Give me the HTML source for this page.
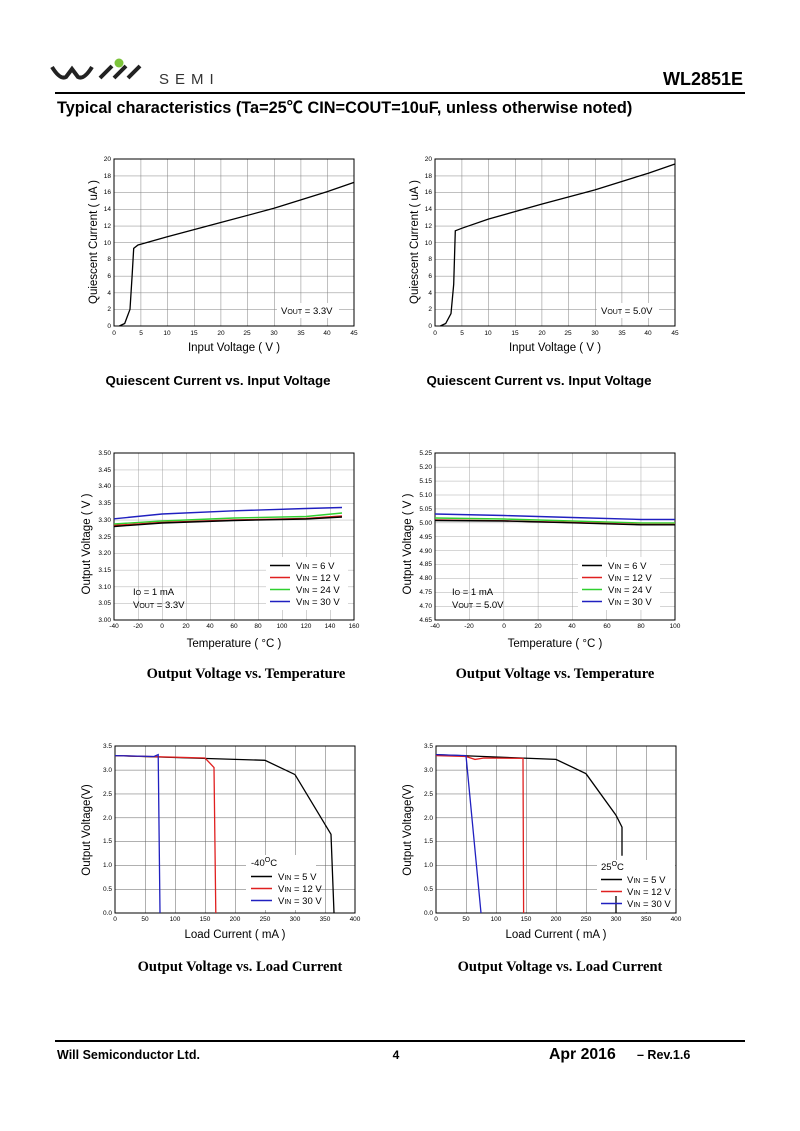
<!DOCTYPE html>
<html><head><meta charset="utf-8"><style>
body{margin:0;background:#fff}
svg{display:block;font-family:"Liberation Sans","Noto Sans CJK SC",sans-serif}
.t{font-size:6.5px}
.l{font-size:9.5px}
.ax{font-size:11.5px}
.yt{text-anchor:end}
.xt{text-anchor:middle}
.ti{font-size:13.3px;font-weight:bold;text-anchor:middle}
.tis{font-family:"Liberation Serif",serif;font-size:14.5px}
.s{font-size:6.5px}
</style></head><body>
<svg width="800" height="1131" viewBox="0 0 800 1131" xmlns="http://www.w3.org/2000/svg">
<defs>
<pattern id="pA" x="114" y="159" width="26.667" height="16.7" patternUnits="userSpaceOnUse"><path d="M0 0H26.667M0 0V16.7" stroke="#808080" stroke-width="1" fill="none"/></pattern>
<pattern id="pB" x="435" y="159" width="26.667" height="16.7" patternUnits="userSpaceOnUse"><path d="M0 0H26.667M0 0V16.7" stroke="#808080" stroke-width="1" fill="none"/></pattern>
<pattern id="pC" x="114" y="453" width="24" height="16.7" patternUnits="userSpaceOnUse"><path d="M0 0H24M0 0V16.7" stroke="#909090" stroke-width="0.8" fill="none"/></pattern>
<pattern id="pD" x="435" y="453" width="34.286" height="13.917" patternUnits="userSpaceOnUse"><path d="M0 0H34.286M0 0V13.917" stroke="#909090" stroke-width="0.8" fill="none"/></pattern>
<pattern id="pE" x="115" y="746" width="30" height="23.857" patternUnits="userSpaceOnUse"><path d="M0 0H30M0 0V23.857" stroke="#606060" stroke-width="1" fill="none"/></pattern>
<pattern id="pF" x="436" y="746" width="30" height="23.857" patternUnits="userSpaceOnUse"><path d="M0 0H30M0 0V23.857" stroke="#606060" stroke-width="1" fill="none"/></pattern>
</defs>

<!-- header -->
<path d="M52 67 Q60 80 66 77 L72 69 L78 77 Q84 80 92 67" stroke="#222" stroke-width="4" fill="none"/>
<path d="M100 78 L112 66 M114 78 L126 66 M128 78 L140 66" stroke="#222" stroke-width="4" fill="none"/>
<circle cx="119" cy="63" r="4.5" fill="#7dc43b"/>
<text x="159" y="84" style="font-size:15px;letter-spacing:6px" fill="#333">SEMI</text>
<text x="743" y="85" text-anchor="end" style="font-size:18px;font-weight:bold">WL2851E</text>
<rect x="55" y="92" width="690" height="2" fill="#000"/>
<text x="57" y="113" style="font-size:16.3px;font-weight:bold">Typical characteristics (Ta=25℃ CIN=COUT=10uF, unless otherwise noted)</text>

<!-- Chart A -->
<rect x="114" y="159" width="240" height="167" fill="url(#pA)"/>
<rect x="114" y="159" width="240" height="167" fill="none" stroke="#000" stroke-width="1"/>
<g class="t yt"><text x="111" y="328">0</text><text x="111" y="311">2</text><text x="111" y="295">4</text><text x="111" y="278">6</text><text x="111" y="261">8</text><text x="111" y="245">10</text><text x="111" y="228">12</text><text x="111" y="211">14</text><text x="111" y="194">16</text><text x="111" y="178">18</text><text x="111" y="161">20</text></g>
<g class="t xt"><text x="114" y="335">0</text><text x="141" y="335">5</text><text x="167" y="335">10</text><text x="194" y="335">15</text><text x="221" y="335">20</text><text x="247" y="335">25</text><text x="274" y="335">30</text><text x="301" y="335">35</text><text x="327" y="335">40</text><text x="354" y="335">45</text></g>
<polyline transform="translate(114,159)" points="5.3,167 10.7,164.5 16,150.3 18.1,116.9 19.7,89.3 24,86 26.7,85.2 53.3,77.7 106.7,63.5 160,49.3 213.3,32.6 240,23.4" fill="none" stroke="#000" stroke-width="1.3"/>
<rect x="277" y="303" width="62" height="15" fill="#fff"/>
<text x="281" y="314" class="l">V<tspan style="font-size:7px">OUT</tspan> = 3.3V</text>
<text x="234" y="351" class="ax xt">Input Voltage ( V )</text>
<text transform="translate(97,242) rotate(-90)" class="ax xt">Quiescent Current ( uA )</text>
<text x="218" y="385" class="ti">Quiescent Current vs. Input Voltage</text>

<!-- Chart B -->
<rect x="435" y="159" width="240" height="167" fill="url(#pB)"/>
<rect x="435" y="159" width="240" height="167" fill="none" stroke="#000" stroke-width="1"/>
<g class="t yt"><text x="432" y="328">0</text><text x="432" y="311">2</text><text x="432" y="295">4</text><text x="432" y="278">6</text><text x="432" y="261">8</text><text x="432" y="245">10</text><text x="432" y="228">12</text><text x="432" y="211">14</text><text x="432" y="194">16</text><text x="432" y="178">18</text><text x="432" y="161">20</text></g>
<g class="t xt"><text x="435" y="335">0</text><text x="462" y="335">5</text><text x="488" y="335">10</text><text x="515" y="335">15</text><text x="542" y="335">20</text><text x="568" y="335">25</text><text x="595" y="335">30</text><text x="622" y="335">35</text><text x="648" y="335">40</text><text x="675" y="335">45</text></g>
<polyline transform="translate(435,159)" points="5.3,167 10.7,164.5 16,154.5 18.7,125.3 20.3,71.8 26.7,69.3 53.3,60.1 106.7,45.1 160,30.9 213.3,14.2 240,5" fill="none" stroke="#000" stroke-width="1.3"/>
<rect x="597" y="303" width="62" height="15" fill="#fff"/>
<text x="601" y="314" class="l">V<tspan style="font-size:7px">OUT</tspan> = 5.0V</text>
<text x="555" y="351" class="ax xt">Input Voltage ( V )</text>
<text transform="translate(418,242) rotate(-90)" class="ax xt">Quiescent Current ( uA )</text>
<text x="539" y="385" class="ti">Quiescent Current vs. Input Voltage</text>

<!-- Chart C -->
<rect x="114" y="453" width="240" height="167" fill="url(#pC)"/>
<rect x="114" y="453" width="240" height="167" fill="none" stroke="#000" stroke-width="1"/>
<g class="s yt"><text x="111" y="622">3.00</text><text x="111" y="605">3.05</text><text x="111" y="589">3.10</text><text x="111" y="572">3.15</text><text x="111" y="555">3.20</text><text x="111" y="539">3.25</text><text x="111" y="522">3.30</text><text x="111" y="505">3.35</text><text x="111" y="488">3.40</text><text x="111" y="472">3.45</text><text x="111" y="455">3.50</text></g>
<g class="s xt"><text x="114" y="628">-40</text><text x="138" y="628">-20</text><text x="162" y="628">0</text><text x="186" y="628">20</text><text x="210" y="628">40</text><text x="234" y="628">60</text><text x="258" y="628">80</text><text x="282" y="628">100</text><text x="306" y="628">120</text><text x="330" y="628">140</text><text x="354" y="628">160</text></g>
<g transform="translate(114,453)" fill="none" stroke-width="1.4">
<polyline points="0,65.8 48,61 120,57.8 192,55.5 228,54.5" stroke="#2020c0"/>
<polyline points="0,71 48,68 120,65 192,63.5 228,60" stroke="#30d030"/>
<polyline points="0,72.5 48,69.5 120,67 192,65.5 228,63" stroke="#e02020"/>
<polyline points="0,73.5 48,70 120,67.5 192,66 228,64" stroke="#000"/>
</g>
<rect x="266" y="557" width="82" height="53" fill="#fff"/>
<g class="l"><text x="296" y="569">V<tspan style="font-size:7px">IN</tspan> = 6 V</text><text x="296" y="581">V<tspan style="font-size:7px">IN</tspan> = 12 V</text><text x="296" y="593">V<tspan style="font-size:7px">IN</tspan> = 24 V</text><text x="296" y="605">V<tspan style="font-size:7px">IN</tspan> = 30 V</text>
<text x="133" y="595">I<tspan style="font-size:7px">O</tspan> = 1 mA</text><text x="133" y="608">V<tspan style="font-size:7px">OUT</tspan> = 3.3V</text></g>
<g stroke-width="1.4"><path d="M270 565.5H290" stroke="#000"/><path d="M270 577.5H290" stroke="#e02020"/><path d="M270 589.5H290" stroke="#30d030"/><path d="M270 601.5H290" stroke="#2020c0"/></g>
<text x="234" y="647" class="ax xt">Temperature ( °C )</text>
<text transform="translate(90,544) rotate(-90)" class="ax xt">Output Voltage ( V )</text>
<text x="246" y="678" class="ti tis">Output Voltage vs. Temperature</text>

<!-- Chart D -->
<rect x="435" y="453" width="240" height="167" fill="url(#pD)"/>
<rect x="435" y="453" width="240" height="167" fill="none" stroke="#000" stroke-width="1"/>
<g class="s yt"><text x="432" y="622">4.65</text><text x="432" y="608">4.70</text><text x="432" y="594">4.75</text><text x="432" y="580">4.80</text><text x="432" y="566">4.85</text><text x="432" y="553">4.90</text><text x="432" y="539">4.95</text><text x="432" y="525">5.00</text><text x="432" y="511">5.05</text><text x="432" y="497">5.10</text><text x="432" y="483">5.15</text><text x="432" y="469">5.20</text><text x="432" y="455">5.25</text></g>
<g class="s xt"><text x="435" y="628">-40</text><text x="469" y="628">-20</text><text x="504" y="628">0</text><text x="538" y="628">20</text><text x="572" y="628">40</text><text x="607" y="628">60</text><text x="641" y="628">80</text><text x="675" y="628">100</text></g>
<g transform="translate(435,453)" fill="none" stroke-width="1.4">
<polyline points="0,61 69,62.5 137,64.5 206,66.5 240,66.5" stroke="#2020c0"/>
<polyline points="0,65 69,66 137,68 206,70 240,70" stroke="#30d030"/>
<polyline points="0,67 69,67.8 137,69.5 206,71.5 240,71.5" stroke="#e02020"/>
<polyline points="0,67.5 69,68 137,69.8 206,71.8 240,71.8" stroke="#000"/>
</g>
<rect x="578" y="557" width="82" height="53" fill="#fff"/>
<g class="l"><text x="608" y="569">V<tspan style="font-size:7px">IN</tspan> = 6 V</text><text x="608" y="581">V<tspan style="font-size:7px">IN</tspan> = 12 V</text><text x="608" y="593">V<tspan style="font-size:7px">IN</tspan> = 24 V</text><text x="608" y="605">V<tspan style="font-size:7px">IN</tspan> = 30 V</text>
<text x="452" y="595">I<tspan style="font-size:7px">O</tspan> = 1 mA</text><text x="452" y="608">V<tspan style="font-size:7px">OUT</tspan> = 5.0V</text></g>
<g stroke-width="1.4"><path d="M582 565.5H602" stroke="#000"/><path d="M582 577.5H602" stroke="#e02020"/><path d="M582 589.5H602" stroke="#30d030"/><path d="M582 601.5H602" stroke="#2020c0"/></g>
<text x="555" y="647" class="ax xt">Temperature ( °C )</text>
<text transform="translate(411,544) rotate(-90)" class="ax xt">Output Voltage ( V )</text>
<text x="555" y="678" class="ti tis">Output Voltage vs. Temperature</text>

<!-- Chart E -->
<rect x="115" y="746" width="240" height="167" fill="url(#pE)"/>
<rect x="115" y="746" width="240" height="167" fill="none" stroke="#000" stroke-width="1"/>
<g class="s yt"><text x="112" y="915">0.0</text><text x="112" y="891">0.5</text><text x="112" y="867">1.0</text><text x="112" y="843">1.5</text><text x="112" y="820">2.0</text><text x="112" y="796">2.5</text><text x="112" y="772">3.0</text><text x="112" y="748">3.5</text></g>
<g class="s xt"><text x="115" y="921">0</text><text x="145" y="921">50</text><text x="175" y="921">100</text><text x="205" y="921">150</text><text x="235" y="921">200</text><text x="265" y="921">250</text><text x="295" y="921">300</text><text x="325" y="921">350</text><text x="355" y="921">400</text></g>
<rect x="246" y="855" width="70" height="55" fill="#fff"/>
<g transform="translate(115,746)" fill="none" stroke-width="1.3">
<polyline points="0,9.6 150,14.3 180,28.6 216,88.3 219,167" stroke="#000"/>
<polyline points="0,9.6 90,12 99,21.5 100.8,167" stroke="#e02020"/>
<polyline points="0,9.6 39,10.5 43.2,8.6 45,167" stroke="#2020c0"/>
</g>
<g class="l"><text x="251" y="866">-40<tspan dy="-4" style="font-size:7px">O</tspan><tspan dy="4">C</tspan></text><text x="278" y="880">V<tspan style="font-size:7px">IN</tspan> = 5 V</text><text x="278" y="892">V<tspan style="font-size:7px">IN</tspan> = 12 V</text><text x="278" y="904">V<tspan style="font-size:7px">IN</tspan> = 30 V</text></g>
<g stroke-width="1.4"><path d="M251 876.5H272" stroke="#000"/><path d="M251 888.5H272" stroke="#e02020"/><path d="M251 900.5H272" stroke="#2020c0"/></g>
<text x="235" y="938" class="ax xt">Load Current ( mA )</text>
<text transform="translate(90,830) rotate(-90)" class="ax xt">Output Voltage(V)</text>
<text x="240" y="971" class="ti tis">Output Voltage vs. Load Current</text>

<!-- Chart F -->
<rect x="436" y="746" width="240" height="167" fill="url(#pF)"/>
<rect x="436" y="746" width="240" height="167" fill="none" stroke="#000" stroke-width="1"/>
<g class="s yt"><text x="433" y="915">0.0</text><text x="433" y="891">0.5</text><text x="433" y="867">1.0</text><text x="433" y="843">1.5</text><text x="433" y="820">2.0</text><text x="433" y="796">2.5</text><text x="433" y="772">3.0</text><text x="433" y="748">3.5</text></g>
<g class="s xt"><text x="436" y="921">0</text><text x="466" y="921">50</text><text x="496" y="921">100</text><text x="526" y="921">150</text><text x="556" y="921">200</text><text x="586" y="921">250</text><text x="616" y="921">300</text><text x="646" y="921">350</text><text x="676" y="921">400</text></g>
<rect x="597" y="860" width="78" height="52" fill="#fff"/>
<g transform="translate(436,746)" fill="none" stroke-width="1.3">
<polyline points="0,8.6 120,13.4 150,27.7 180,69.2 186,81.1 186,109.7" stroke="#000"/>
<path d="M180 150V167" stroke="#000"/>
<polyline points="0,9.6 30,10.5 39,13.4 48,12 87,12.4 87.6,167" stroke="#e02020"/>
<polyline points="0,8.6 30,9.6 45,167" stroke="#2020c0"/>
</g>
<g class="l"><text x="601" y="870">25<tspan dy="-4" style="font-size:7px">O</tspan><tspan dy="4">C</tspan></text><text x="627" y="883">V<tspan style="font-size:7px">IN</tspan> = 5 V</text><text x="627" y="895">V<tspan style="font-size:7px">IN</tspan> = 12 V</text><text x="627" y="907">V<tspan style="font-size:7px">IN</tspan> = 30 V</text></g>
<g stroke-width="1.4"><path d="M601 879.5H622" stroke="#000"/><path d="M601 891.5H622" stroke="#e02020"/><path d="M601 903.5H622" stroke="#2020c0"/></g>
<text x="556" y="938" class="ax xt">Load Current ( mA )</text>
<text transform="translate(411,830) rotate(-90)" class="ax xt">Output Voltage(V)</text>
<text x="560" y="971" class="ti tis">Output Voltage vs. Load Current</text>

<!-- footer -->
<rect x="55" y="1040" width="690" height="2" fill="#000"/>
<text x="57" y="1059" style="font-size:12.5px;font-weight:bold">Will Semiconductor Ltd.</text>
<text x="396" y="1059" text-anchor="middle" style="font-size:12px;font-weight:bold">4</text>
<text x="549" y="1059" style="font-size:15.8px;font-weight:bold">Apr 2016</text>
<text x="637" y="1059" style="font-size:12.5px;font-weight:bold">– Rev.1.6</text>
</svg>
</body></html>
